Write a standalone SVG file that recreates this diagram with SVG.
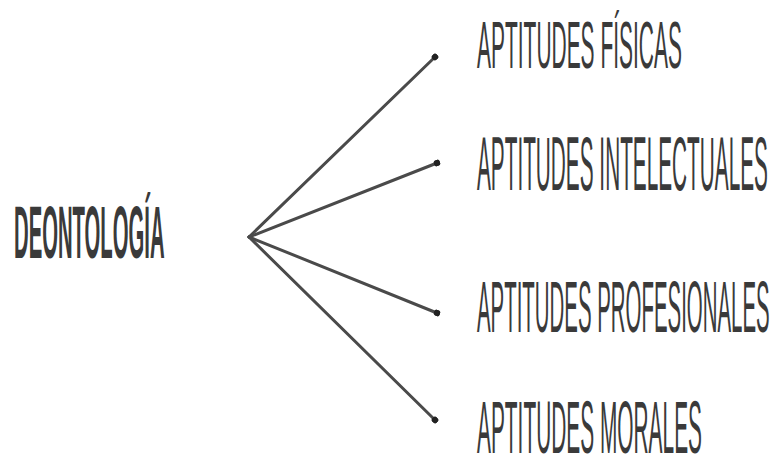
<svg xmlns="http://www.w3.org/2000/svg" width="778" height="456" viewBox="0 0 778 456">
<style>
.t{font-family:"Liberation Sans","DejaVu Sans",sans-serif;fill:#3a3a3a;}
.l{stroke:#4a4a4a;stroke-width:3;stroke-linecap:round;fill:none;}
</style>
<defs>
<marker id="dot" viewBox="0 0 10 10" refX="5" refY="5" markerWidth="2.2" markerHeight="2.2" orient="auto" markerUnits="strokeWidth">
<circle cx="5" cy="5" r="5" fill="#222"/>
</marker>
</defs>
<rect width="778" height="456" fill="#fff"/>
<g id="root">
<text class="t" transform="translate(14,258) scale(0.274,1)" font-size="74" font-weight="bold">DEONTOLOGÍA</text>
</g>
<g id="connectors">
<line class="l" x1="249" y1="237" x2="435" y2="57" marker-end="url(#dot)"/>
<line class="l" x1="249" y1="237" x2="437" y2="163" marker-end="url(#dot)"/>
<line class="l" x1="249" y1="237" x2="437" y2="313" marker-end="url(#dot)"/>
<line class="l" x1="249" y1="237" x2="435" y2="420" marker-end="url(#dot)"/>
</g>
<g id="n1">
<text class="t" transform="translate(477,68) scale(0.3176,1)" font-size="66">APTITUDES FÍSICAS</text>
</g>
<g id="n2">
<text class="t" transform="translate(477,190) scale(0.2734,1)" font-size="76">APTITUDES INTELECTUALES</text>
</g>
<g id="n3">
<text class="t" transform="translate(477,332) scale(0.2797,1)" font-size="73">APTITUDES PROFESIONALES</text>
</g>
<g id="n4">
<text class="t" transform="translate(477,453) scale(0.2821,1)" font-size="74">APTITUDES MORALES</text>
</g>
</svg>
